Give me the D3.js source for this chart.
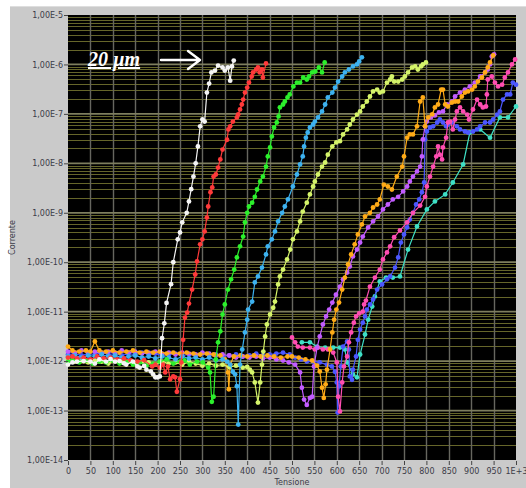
<!DOCTYPE html>
<html>
<head>
<meta charset="utf-8">
<script src="https://cdn.jsdelivr.net/npm/d3@7"></script>
<style>
  html, body { margin: 0; padding: 0; background: #ffffff; }
  svg { display: block; }
</style>
</head>
<body>
<svg id="chart" width="526" height="488"></svg>
<script>
// I–V sweeps: [Tensione (V), Corrente (A)]
const white = [[0,8.5e-13],[10,9.4e-13],[20,9.8e-13],[35,1.0e-12],[50,9.8e-13],[60,8.9e-13],[70,1.08e-12],[85,9.8e-13],[95,1.1e-12],[105,9.8e-13],[115,1.0e-12],[125,9.0e-13],[130,8.5e-13],[145,9.8e-13],[155,7.8e-13],[160,7.4e-13],[170,8.0e-13],[175,6.7e-13],[185,6.2e-13],[190,5.4e-13],[195,4.7e-13],[200,4.7e-13],[205,4.9e-13],[210,2.9e-12],[215,5.8e-12],[220,1.5e-11],[230,3.6e-11],[235,1.0e-10],[245,2.9e-10],[250,4.0e-10],[255,6.4e-10],[265,1.0e-9],[270,1.7e-9],[275,3.0e-9],[280,5.4e-9],[285,1.0e-8],[290,2.2e-8],[295,5.6e-8],[300,7.7e-8],[305,7.0e-8],[310,2.7e-7],[315,4.1e-7],[320,6.9e-7],[328,7.5e-7],[335,9.5e-7],[345,8.7e-7],[350,7.5e-7],[357,8.7e-7],[362,4.7e-7],[366,9.1e-7],[370,1.2e-6]];

const red = [[0,1.18e-12],[10,1.24e-12],[20,1.13e-12],[35,1.18e-12],[50,1.08e-12],[65,1.24e-12],[80,1.13e-12],[95,1.18e-12],[110,1.08e-12],[125,1.13e-12],[140,1.03e-12],[155,9.8e-13],[170,1.05e-12],[188,7.8e-13],[195,8.5e-13],[205,7.4e-13],[212,8.5e-13],[217,5.9e-13],[223,7.8e-13],[228,4.3e-13],[235,4.9e-13],[239,4.7e-13],[243,2.4e-13],[250,4.3e-13],[253,9.4e-13],[257,2.7e-12],[261,7.6e-12],[266,9.6e-12],[270,1.46e-11],[277,2.8e-11],[284,5.65e-11],[288,1.04e-10],[295,2.3e-10],[300,2.9e-10],[305,4.2e-10],[310,8.0e-10],[313,1.34e-9],[318,2.6e-9],[322,3.25e-9],[325,5.4e-9],[330,5.95e-9],[335,8.2e-9],[340,1.2e-8],[345,1.9e-8],[355,3.0e-8],[358,4.85e-8],[362,5.6e-8],[368,7.0e-8],[377,8.5e-8],[380,9.8e-8],[384,1.23e-7],[388,1.55e-7],[391,1.95e-7],[395,2.7e-7],[400,3.4e-7],[404,4.3e-7],[410,5.7e-7],[413,6.9e-7],[420,7.9e-7],[424,8.7e-7],[428,6.9e-7],[433,7.9e-7],[435,5.45e-7],[442,1.05e-6]];

const green = [[0,9.8e-13],[10,1.08e-12],[25,9.4e-13],[40,1.03e-12],[55,8.9e-13],[70,9.8e-13],[85,9.4e-13],[100,1.03e-12],[115,8.9e-13],[130,9.8e-13],[145,8.5e-13],[160,9.4e-13],[175,8.1e-13],[190,8.9e-13],[205,9.8e-13],[220,1.08e-12],[235,8.9e-13],[250,9.8e-13],[260,1.03e-12],[272,8.5e-13],[288,9.8e-13],[301,9.4e-13],[313,7.4e-13],[317,5.9e-13],[321,1.5e-13],[325,1.9e-13],[330,1.08e-12],[335,2.4e-12],[340,4.0e-12],[345,8.8e-12],[350,1.4e-11],[357,2.8e-11],[364,4.5e-11],[371,7.1e-11],[377,1.25e-10],[384,2.1e-10],[391,3.3e-10],[395,6.4e-10],[400,1.0e-9],[404,1.34e-9],[411,1.6e-9],[417,2.1e-9],[422,2.96e-9],[429,4.3e-9],[435,5.4e-9],[442,8.6e-9],[446,1.38e-8],[451,2.1e-8],[455,3.5e-8],[460,5.3e-8],[466,6.7e-8],[470,8.9e-8],[473,1.35e-7],[480,1.55e-7],[484,1.78e-7],[490,2.15e-7],[495,2.47e-7],[503,3.6e-7],[511,4.3e-7],[518,4.3e-7],[525,5.45e-7],[533,4.96e-7],[538,5.7e-7],[545,6.9e-7],[552,7.2e-7],[560,8.7e-7],[567,6.9e-7],[573,1.1e-6]];

const skyBlue = [[0,1.24e-12],[15,1.3e-12],[30,1.18e-12],[45,1.3e-12],[60,1.24e-12],[75,1.36e-12],[90,1.24e-12],[105,1.3e-12],[120,1.18e-12],[135,1.24e-12],[150,1.3e-12],[165,1.18e-12],[180,1.24e-12],[195,1.13e-12],[210,1.24e-12],[225,1.18e-12],[240,1.08e-12],[255,1.24e-12],[270,1.13e-12],[285,1.18e-12],[300,1.08e-12],[315,1.18e-12],[330,1.03e-12],[345,1.08e-12],[355,9.8e-13],[362,8.5e-13],[368,6.1e-13],[373,5.4e-13],[377,3.1e-13],[380,5.2e-14],[384,8.5e-13],[389,1.72e-12],[395,3.8e-12],[400,6.9e-12],[402,1.1e-11],[411,1.6e-11],[417,3.9e-11],[424,5.15e-11],[433,7.8e-11],[442,1.44e-10],[446,2.1e-10],[455,2.9e-10],[462,4.2e-10],[469,6.7e-10],[478,1.0e-9],[484,1.34e-9],[491,1.86e-9],[502,3.4e-9],[511,5.95e-9],[518,9.5e-9],[524,1.38e-8],[527,2.2e-8],[531,3.3e-8],[535,4.2e-8],[540,5.3e-8],[547,6.1e-8],[551,7.0e-8],[558,8.5e-8],[567,1.12e-7],[574,1.55e-7],[580,2.15e-7],[590,2.7e-7],[596,3.4e-7],[603,4.5e-7],[612,5.7e-7],[618,6.9e-7],[627,7.9e-7],[636,9.1e-7],[645,1.0e-6],[650,1.15e-6],[656,1.39e-6]];

const yellowGreen = [[0,1.08e-12],[15,9.8e-13],[30,1.03e-12],[45,9.4e-13],[60,1.03e-12],[75,9.8e-13],[90,8.9e-13],[105,1.03e-12],[120,9.4e-13],[135,9.8e-13],[150,8.9e-13],[165,9.8e-13],[180,9.4e-13],[195,8.5e-13],[210,9.8e-13],[225,8.9e-13],[240,9.4e-13],[255,8.5e-13],[270,9.8e-13],[285,8.9e-13],[300,8.1e-13],[315,8.9e-13],[330,8.1e-13],[345,8.5e-13],[360,7.6e-13],[375,8.1e-13],[390,7.4e-13],[400,7.6e-13],[406,6.7e-13],[411,5.9e-13],[417,3.7e-13],[424,1.45e-13],[429,3.7e-13],[433,8.5e-13],[436,1.56e-12],[440,3.15e-12],[444,5.5e-12],[451,8.8e-12],[458,1.2e-11],[462,1.6e-11],[469,3.55e-11],[473,5.15e-11],[480,7.1e-11],[489,1.14e-10],[496,1.8e-10],[502,2.9e-10],[511,4.2e-10],[518,6.7e-10],[524,1.06e-9],[533,1.6e-9],[540,2.35e-9],[547,3.4e-9],[551,4.3e-9],[558,5.95e-9],[567,8.6e-9],[574,1.04e-8],[580,1.5e-8],[590,2.2e-8],[599,2.65e-8],[607,2.8e-8],[614,3.85e-8],[623,4.85e-8],[629,6.1e-8],[636,7.7e-8],[645,9.7e-8],[652,1.12e-7],[658,1.41e-7],[667,1.78e-7],[674,2.25e-7],[681,2.84e-7],[690,3.1e-7],[696,2.7e-7],[703,2.84e-7],[712,4.3e-7],[719,4.96e-7],[723,5.7e-7],[728,4.5e-7],[737,4.5e-7],[746,4.96e-7],[752,5.7e-7],[759,6.9e-7],[768,8.7e-7],[775,9.1e-7],[781,7.9e-7],[788,9.1e-7],[792,1.0e-6],[799,1.1e-6]];

const orange = [[0,1.97e-12],[10,1.64e-12],[25,1.56e-12],[40,1.64e-12],[50,1.56e-12],[60,2.5e-12],[70,1.64e-12],[85,1.56e-12],[100,1.64e-12],[115,1.49e-12],[130,1.56e-12],[145,1.64e-12],[160,1.49e-12],[175,1.56e-12],[190,1.49e-12],[205,1.56e-12],[220,1.42e-12],[235,1.49e-12],[250,1.42e-12],[265,1.49e-12],[280,1.42e-12],[295,1.36e-12],[310,1.42e-12],[325,1.36e-12],[340,1.3e-12],[350,1.08e-12],[357,5.9e-13],[359,2.7e-13],[362,8.5e-13],[370,1.24e-12],[385,1.3e-12],[400,1.24e-12],[415,1.3e-12],[430,1.24e-12],[445,1.3e-12],[460,1.24e-12],[475,1.18e-12],[490,1.24e-12],[500,1.24e-12],[515,1.18e-12],[530,1.08e-12],[545,1.03e-12],[556,8.1e-13],[562,6.2e-13],[567,2.9e-13],[571,1.8e-13],[575,3.4e-13],[578,6.7e-13],[585,1.72e-12],[590,3.8e-12],[594,6.9e-12],[599,1.1e-11],[605,1.53e-11],[612,2.8e-11],[618,4.9e-11],[625,9.0e-11],[632,1.44e-10],[640,2.3e-10],[647,3.65e-10],[656,5.8e-10],[663,8.4e-10],[674,1.0e-9],[681,1.28e-9],[690,1.47e-9],[696,1.86e-9],[705,3.7e-9],[714,3.4e-9],[723,2.96e-9],[734,5.4e-9],[746,8.6e-9],[750,1.38e-8],[757,3.3e-8],[763,3.85e-8],[770,3.85e-8],[779,5.6e-8],[786,1.78e-7],[792,2.15e-7],[797,5.6e-8],[804,8.5e-8],[813,9.8e-8],[819,1.35e-7],[826,1.55e-7],[833,3.1e-7],[837,3.1e-7],[842,1.55e-7],[848,1.41e-7],[857,1.7e-7],[864,1.78e-7],[871,1.78e-7],[879,2.25e-7],[886,2.7e-7],[893,2.84e-7],[902,3.1e-7],[908,3.6e-7],[915,4.5e-7],[924,5.45e-7],[931,6.9e-7],[937,8.7e-7],[942,1.1e-6],[949,1.52e-6]];

const purple = [[0,1.56e-12],[15,1.49e-12],[30,1.64e-12],[45,1.49e-12],[60,1.56e-12],[75,1.42e-12],[90,1.56e-12],[105,1.49e-12],[120,1.64e-12],[135,1.49e-12],[150,1.56e-12],[165,1.42e-12],[180,1.49e-12],[195,1.56e-12],[210,1.42e-12],[225,1.49e-12],[240,1.36e-12],[255,1.49e-12],[270,1.42e-12],[285,1.36e-12],[300,1.49e-12],[315,1.42e-12],[330,1.3e-12],[345,1.36e-12],[360,1.3e-12],[375,1.18e-12],[390,1.24e-12],[405,1.18e-12],[420,1.24e-12],[435,1.13e-12],[450,1.18e-12],[465,1.08e-12],[480,1.03e-12],[493,9.4e-13],[507,8.5e-13],[518,5.9e-13],[522,2.9e-13],[527,1.67e-13],[533,1.3e-13],[540,1.8e-13],[545,1.9e-13],[549,7.8e-13],[556,1.88e-12],[562,3.15e-12],[569,5.5e-12],[576,8.0e-12],[583,1.1e-11],[590,1.53e-11],[598,2.2e-11],[607,3.2e-11],[614,4.5e-11],[623,6.2e-11],[629,8.2e-11],[636,1.31e-10],[645,1.8e-10],[652,2.5e-10],[658,3.3e-10],[670,5.05e-10],[681,6.7e-10],[692,8.4e-10],[703,1.17e-9],[714,1.47e-9],[725,1.86e-9],[737,2.1e-9],[748,2.7e-9],[757,3.4e-9],[763,4.3e-9],[770,5.4e-9],[779,6.85e-9],[786,8.6e-9],[790,1.38e-8],[792,3.05e-8],[797,5.6e-8],[801,7.0e-8],[810,8.5e-8],[819,9.3e-8],[828,1.07e-7],[837,1.12e-7],[846,1.55e-7],[857,1.78e-7],[864,2.25e-7],[875,2.7e-7],[886,3.1e-7],[897,3.6e-7],[908,4.3e-7],[920,5.7e-7],[931,6.9e-7],[937,7.9e-7],[942,1.0e-6],[946,1.45e-6],[951,1.6e-6]];

const pink = [[500,3.0e-12],[507,2.4e-12],[513,1.97e-12],[524,1.88e-12],[540,1.88e-12],[551,1.72e-12],[558,1.88e-12],[569,1.72e-12],[580,1.72e-12],[592,1.49e-12],[600,9.4e-13],[603,1.9e-13],[607,9.6e-14],[612,3.7e-13],[616,7.8e-13],[623,1.24e-12],[627,2.4e-12],[632,3.8e-12],[638,6.0e-12],[643,8.0e-12],[650,9.2e-12],[658,1.0e-11],[661,1.4e-11],[665,1.68e-11],[674,3.2e-11],[685,4.9e-11],[696,7.1e-11],[703,1.14e-10],[712,1.58e-10],[719,2.1e-10],[728,3.2e-10],[741,4.4e-10],[757,6.4e-10],[770,1.0e-9],[786,1.4e-9],[797,2.1e-9],[801,3.4e-9],[808,5.4e-9],[815,8.6e-9],[822,1.38e-8],[826,2.2e-8],[830,1.5e-8],[835,1.2e-8],[837,2.1e-8],[844,3.3e-8],[848,6.7e-8],[853,7.0e-8],[859,4.85e-8],[864,7.7e-8],[868,1.12e-7],[875,1.35e-7],[882,1.12e-7],[891,9.7e-8],[895,7.7e-8],[904,1.23e-7],[913,1.95e-7],[920,1.55e-7],[926,1.35e-7],[933,1.41e-7],[935,2.47e-7],[937,4.96e-7],[946,5.7e-7],[953,4.3e-7],[960,3.6e-7],[969,3.9e-7],[975,5.45e-7],[982,6.9e-7],[991,1.0e-6],[998,1.26e-6]];

const blue = [[0,1.36e-12],[15,1.42e-12],[30,1.3e-12],[45,1.42e-12],[60,1.36e-12],[75,1.49e-12],[90,1.36e-12],[105,1.42e-12],[120,1.3e-12],[135,1.42e-12],[150,1.36e-12],[165,1.49e-12],[180,1.36e-12],[195,1.42e-12],[210,1.3e-12],[225,1.36e-12],[240,1.42e-12],[255,1.3e-12],[270,1.36e-12],[285,1.3e-12],[300,1.42e-12],[315,1.3e-12],[330,1.36e-12],[345,1.24e-12],[360,1.3e-12],[375,1.36e-12],[390,1.24e-12],[405,1.3e-12],[420,1.42e-12],[435,1.3e-12],[450,1.36e-12],[465,1.42e-12],[480,1.49e-12],[495,1.36e-12],[507,1.18e-12],[520,1.08e-12],[533,9.8e-13],[547,9.8e-13],[562,9.4e-13],[578,8.5e-13],[589,7.8e-13],[596,6.1e-13],[600,3.7e-13],[602,9.1e-14],[605,3.1e-13],[609,7.8e-13],[614,1.97e-12],[623,2.5e-12],[627,1.72e-12],[629,4.9e-13],[634,4.2e-13],[636,6.7e-13],[643,1.24e-12],[647,2.7e-12],[652,4.35e-12],[658,6.0e-12],[663,8.0e-12],[667,1.1e-11],[674,1.4e-11],[681,1.77e-11],[690,2.8e-11],[701,3.55e-11],[712,4.5e-11],[719,5.15e-11],[730,7.8e-11],[737,1.25e-10],[743,2.5e-10],[750,3.65e-10],[757,5.05e-10],[763,7.3e-10],[770,1.0e-9],[777,1.47e-9],[784,1.86e-9],[790,2.6e-9],[795,4.1e-9],[797,3.05e-8],[801,4.4e-8],[808,5.3e-8],[815,5.6e-8],[824,6.7e-8],[830,7.7e-8],[837,6.7e-8],[844,5.6e-8],[848,6.1e-8],[857,6.7e-8],[868,5.6e-8],[875,4.85e-8],[886,4.4e-8],[893,4.2e-8],[904,4.4e-8],[913,4.85e-8],[920,5.6e-8],[931,6.7e-8],[942,6.7e-8],[949,7.7e-8],[958,9.7e-8],[964,1.12e-7],[971,1.95e-7],[980,2.47e-7],[987,2.47e-7],[993,4.3e-7],[1000,3.9e-7]];

const cyan = [[522,2.4e-12],[540,2.4e-12],[556,1.97e-12],[574,1.88e-12],[592,1.88e-12],[607,1.88e-12],[618,1.72e-12],[623,9.4e-13],[636,5.4e-13],[645,4.7e-13],[652,1.36e-12],[663,3.45e-12],[670,6.9e-12],[679,1.27e-11],[685,2.03e-11],[696,4.1e-11],[710,4.9e-11],[725,4.9e-11],[741,5.15e-11],[759,1.8e-10],[779,5.3e-10],[801,1.17e-9],[819,1.7e-9],[842,2.35e-9],[859,4.1e-9],[882,9.5e-9],[897,4.2e-8],[920,4.85e-8],[942,3.3e-8],[964,8.5e-8],[982,8.5e-8],[1000,1.41e-7]];

// Axis ticks
const xTicks = d3.range(0, 1001, 50);
const yExponents = d3.range(-14, -4);

// Drawing order (back to front) and trace colours
const traces = [
  { data: cyan, color: "#3ee0c6" },
  { data: blue, color: "#4b57ff" },
  { data: pink, color: "#ff4db2" },
  { data: purple, color: "#c25cff" },
  { data: orange, color: "#ffab17" },
  { data: yellowGreen, color: "#d5f46a" },
  { data: skyBlue, color: "#3db2f0" },
  { data: green, color: "#2cf02c" },
  { data: red, color: "#ff3a3a" },
  { data: white, color: "#f4f4f4" }
];

const svg = d3.select("#chart");
const W = 526, H = 488;
const plot = { left: 68, right: 516, top: 15, bottom: 460 };

const x = d3.scaleLinear().domain([0, 1000]).range([plot.left, plot.right]);
const y = d3.scaleLog().domain([1e-14, 1e-5]).range([plot.bottom, plot.top]);

// Grey front panel
svg.append("rect").attr("x", 10).attr("y", 6).attr("width", W - 10).attr("height", H - 6)
  .attr("fill", "#cacaca");
svg.append("line").attr("x1", 10).attr("x2", W).attr("y1", 6.5).attr("y2", 6.5)
  .attr("stroke", "#dedede").attr("stroke-width", 1);

// Black plot area
svg.append("rect")
  .attr("x", plot.left).attr("y", plot.top)
  .attr("width", plot.right - plot.left).attr("height", plot.bottom - plot.top)
  .attr("fill", "#000");

const grid = svg.append("g");

// Minor horizontal grid (2..9 in every decade)
const minor = [];
yExponents.slice(0, -1).forEach(e => {
  for (let m = 2; m <= 9; m++) minor.push(m * Math.pow(10, e));
});
grid.selectAll("line.minor").data(minor).join("line")
  .attr("class", "minor")
  .attr("x1", plot.left).attr("x2", plot.right)
  .attr("y1", d => Math.round(y(d)) + 0.5).attr("y2", d => Math.round(y(d)) + 0.5)
  .attr("stroke", "#66662a").attr("stroke-width", 1);

// Vertical grid
grid.selectAll("line.vx").data(xTicks.slice(1, -1)).join("line")
  .attr("class", "vx")
  .attr("x1", d => Math.round(x(d)) + 0.5).attr("x2", d => Math.round(x(d)) + 0.5)
  .attr("y1", plot.top).attr("y2", plot.bottom)
  .attr("stroke", "#66665f").attr("stroke-width", 1.4);

// Major horizontal grid (decades)
grid.selectAll("line.major").data(yExponents.slice(1, -1).map(e => Math.pow(10, e))).join("line")
  .attr("class", "major")
  .attr("x1", plot.left).attr("x2", plot.right)
  .attr("y1", d => y(d)).attr("y2", d => y(d))
  .attr("stroke", "#7e7e5e").attr("stroke-width", 1.8);

// Traces
const line = d3.line().x(d => x(d[0])).y(d => y(d[1]));
const tr = svg.append("g");
traces.forEach(t => {
  const g = tr.append("g");
  g.append("path").datum(t.data).attr("d", line)
    .attr("fill", "none").attr("stroke", t.color).attr("stroke-width", 1.2);
  g.selectAll("circle").data(t.data).join("circle")
    .attr("cx", d => x(d[0])).attr("cy", d => y(d[1])).attr("r", 2.4)
    .attr("fill", t.color);
});

// Axes
const fmtY = d => "1,00E" + Math.round(Math.log10(d));
const yAxis = d3.axisLeft(y).tickValues(yExponents.map(e => Math.pow(10, e)))
  .tickFormat(fmtY).tickSize(4).tickPadding(1);
const xAxis = d3.axisBottom(x).tickValues(xTicks)
  .tickFormat(d => d === 1000 ? "1E+3" : d).tickSize(4).tickPadding(3);

const axStyle = g => {
  g.select(".domain").remove();
  g.selectAll(".tick line").attr("stroke", "#444");
  g.selectAll(".tick text").attr("fill", "#3c3c48")
    .style("font-family", "'DejaVu Sans', sans-serif").style("font-size", "8px");
};
svg.append("g").attr("transform", `translate(${plot.left},0)`).call(yAxis).call(axStyle);
svg.append("g").attr("transform", `translate(0,${plot.bottom + 1})`).call(xAxis).call(axStyle);

// Axis titles
svg.append("text").attr("x", (plot.left + plot.right) / 2).attr("y", 485)
  .attr("text-anchor", "middle").attr("fill", "#3c3c48")
  .style("font-family", "'DejaVu Sans', sans-serif").style("font-size", "8px")
  .text("Tensione");
svg.append("text")
  .attr("transform", `translate(15,${(plot.top + plot.bottom) / 2}) rotate(-90)`)
  .attr("text-anchor", "middle").attr("fill", "#3c3c48")
  .style("font-family", "'DejaVu Sans', sans-serif").style("font-size", "8px")
  .text("Corrente");

// Annotation: 20 µm with arrow
svg.append("text").attr("x", 88).attr("y", 66)
  .attr("fill", "#fff")
  .style("font-family", "'Liberation Serif', 'Times New Roman', serif")
  .style("font-size", "20px").style("font-weight", "bold").style("font-style", "italic")
  .style("text-decoration", "underline")
  .text("20 µm");
svg.append("path")
  .attr("d", "M161,60 H199 M188,51 L200,60 L188,69")
  .attr("fill", "none").attr("stroke", "#fff").attr("stroke-width", 2.4)
  .attr("stroke-linecap", "round").attr("stroke-linejoin", "round");
</script>
</body>
</html>
